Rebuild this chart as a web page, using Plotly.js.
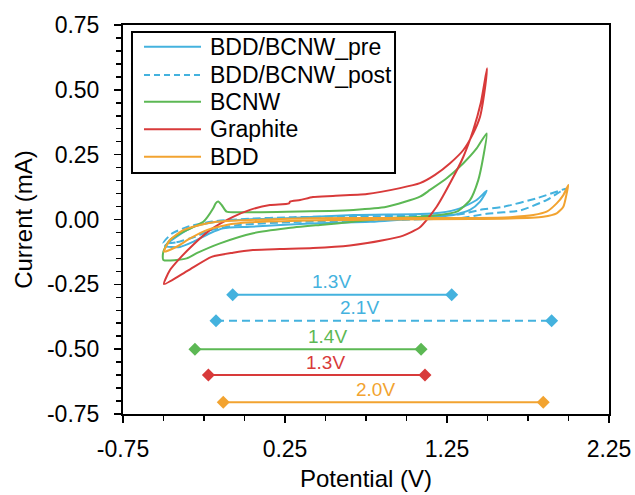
<!DOCTYPE html>
<html>
<head>
<meta charset="utf-8">
<script src="https://cdn.plot.ly/plotly-3.0.1.min.js"></script>
<style>html,body{margin:0;padding:0;background:#fff;}#chart{width:635px;height:495px;}</style>
</head>
<body>
<div id="chart"></div>
<script>
// ---- series (potential V, current mA) ----
const preX = [-0.491,-0.398,-0.316,-0.213,-0.131,0.034,0.404,0.775,1.083,1.186,1.289,1.392,1.454,1.495,1.433,1.330,1.207,1.083,0.672,0.260,0.034,-0.172,-0.316,-0.419,-0.491];
const preY = [-0.102,-0.106,-0.086,-0.053,-0.034,-0.028,-0.015,-0.009,0.005,0.011,0.017,0.037,0.069,0.111,0.075,0.043,0.026,0.021,0.017,0.005,0.001,-0.009,-0.028,-0.066,-0.102];

const postX = [-0.501,-0.42,-0.30,-0.20,-0.05,0.30,0.80,1.10,1.33,1.495,1.701,1.865,1.948,1.989,1.804,1.598,1.454,1.330,1.10,0.70,0.30,0.0,-0.20,-0.35,-0.45,-0.501];
const postY = [-0.091,-0.088,-0.065,-0.040,-0.022,-0.010,-0.003,0.001,0.005,0.022,0.035,0.075,0.107,0.120,0.082,0.049,0.037,0.020,0.015,0.012,0.009,0.002,-0.008,-0.028,-0.055,-0.091];

const bcnwX = [-0.501,-0.357,-0.295,-0.151,0.054,0.260,0.466,0.672,0.878,1.083,1.207,1.310,1.392,1.443,1.474,1.495,1.433,1.351,1.248,1.145,1.083,0.878,0.672,0.260,-0.048,-0.110,-0.141,-0.162,-0.178,-0.193,-0.254,-0.357,-0.460,-0.501,-0.501];
const bcnwY = [-0.156,-0.150,-0.130,-0.092,-0.053,-0.034,-0.021,-0.009,0.005,0.011,0.017,0.030,0.075,0.152,0.242,0.332,0.274,0.217,0.159,0.114,0.088,0.049,0.037,0.030,0.028,0.030,0.056,0.069,0.062,0.043,-0.009,-0.041,-0.079,-0.124,-0.156];

const graphX = [-0.497,-0.35,-0.203,-0.071,0.052,0.219,0.423,0.651,0.855,0.98,1.083,1.186,1.279,1.351,1.412,1.458,1.497,1.480,1.454,1.412,1.351,1.269,1.176,1.083,0.960,0.756,0.546,0.423,0.343,0.281,0.275,0.157,0.034,-0.071,-0.213,-0.318,-0.398,-0.460,-0.497];
const graphY = [-0.249,-0.197,-0.144,-0.128,-0.118,-0.114,-0.110,-0.100,-0.080,-0.062,-0.030,0.049,0.152,0.242,0.345,0.448,0.583,0.486,0.396,0.332,0.268,0.217,0.172,0.140,0.121,0.098,0.091,0.087,0.075,0.069,0.062,0.056,0.037,0.010,-0.041,-0.098,-0.149,-0.195,-0.249];

const bddX = [-0.497,-0.419,-0.336,-0.233,-0.110,0.034,0.404,0.900,1.400,1.639,1.844,1.927,1.968,1.989,1.999,1.968,1.927,1.865,1.783,1.639,1.433,0.900,0.404,0.034,-0.172,-0.275,-0.378,-0.460,-0.497];
const bddY = [-0.124,-0.105,-0.073,-0.041,-0.021,-0.011,-0.004,0.000,0.002,0.004,0.011,0.024,0.049,0.101,0.133,0.094,0.062,0.030,0.017,0.009,0.006,0.006,0.005,-0.002,-0.009,-0.021,-0.041,-0.079,-0.124];

// ---- legend / names ----
const seriesNames = ['BDD/BCNW_pre','BDD/BCNW_post','BCNW','Graphite','BDD'];

// ---- potential-window bars ----
const windowLabels = ['1.3V','2.1V','1.4V','1.3V','2.0V'];
const windowStart = [-0.073,-0.176,-0.306,-0.223,-0.131];
const windowEnd   = [1.279,1.896,1.090,1.114,1.844];
const windowLevel = [-0.29,-0.39,-0.50,-0.60,-0.705];
const labelX      = [0.538,0.707,0.515,0.501,0.81];

// ---- ticks ----
const xTickVals = [-0.75,0.25,1.25,2.25];
const xTickText = ['-0.75','0.25','1.25','2.25'];
const yTickVals = [-0.75,-0.5,-0.25,0,0.25,0.5,0.75];
const yTickText = ['-0.75','-0.50','-0.25','0.00','0.25','0.50','0.75'];

// ---- styles ----
const colors = ['rgb(68,178,222)','rgb(68,178,222)','rgb(92,184,84)','rgb(216,58,58)','rgb(242,163,48)'];
const dashes = ['solid','8px,4px','solid','solid','solid'];
const FONT = 'Liberation Sans, Arial, sans-serif';

const curves = [[preX,preY],[postX,postY],[bcnwX,bcnwY],[graphX,graphY],[bddX,bddY]];
const traces = curves.map((c,i)=>({
  x:c[0], y:c[1], type:'scatter', mode:'lines', name:seriesNames[i],
  line:{color:colors[i], width:2, dash:dashes[i], shape:'spline', smoothing:0.6},
  showlegend:false, hoverinfo:'skip'
}));

// bars use colour order: pre, post, bcnw, graphite, bdd
windowLabels.forEach((lab,i)=>{
  traces.push({
    x:[windowStart[i],windowEnd[i]], y:[windowLevel[i],windowLevel[i]],
    type:'scatter', mode:'lines+markers', showlegend:false, hoverinfo:'skip',
    line:{color:colors[i], width:2, dash: i===1 ? '8px,5px' : 'solid'},
    marker:{symbol:'diamond', size:10, color:colors[i]}
  });
});

const annotations = windowLabels.map((lab,i)=>({
  x:labelX[i], y:windowLevel[i], xref:'x', yref:'y', text:lab, showarrow:false,
  yanchor:'middle', yshift:13, font:{family:FONT, size:19, color:colors[i]}
}));

// custom legend (paper coordinates)
const legRowsY = [0.9442,0.8715,0.8028,0.7319,0.6614];
const shapes = [{
  type:'rect', xref:'paper', yref:'paper', x0:0.0185, x1:0.5597, y0:0.6195, y1:0.982,
  line:{color:'#000', width:2}, fillcolor:'#fff', layer:'above'
}];
seriesNames.forEach((nm,i)=>{
  shapes.push({type:'line', xref:'paper', yref:'paper', x0:0.0432, x1:0.1605, y0:legRowsY[i], y1:legRowsY[i],
    line:{color:colors[i], width:2, dash: i===1 ? '6px,4px' : 'solid'}, layer:'above'});
  annotations.push({x:0.1755, y:legRowsY[i], xref:'paper', yref:'paper', text:nm, showarrow:false,
    xanchor:'left', yanchor:'middle', font:{family:FONT, size:23, color:'#000'}});
});

const layout = {
  width:635, height:495,
  margin:{l:123, r:26, t:25, b:81},
  paper_bgcolor:'#fff', plot_bgcolor:'#fff',
  font:{family:FONT, size:23, color:'#000'},
  showlegend:false,
  xaxis:{
    range:[-0.75,2.25], tickmode:'array', tickvals:xTickVals, ticktext:xTickText,
    ticks:'outside', ticklen:7, tickwidth:1.5, tickcolor:'#000',
    minor:{tickmode:'linear', tick0:-0.75, dtick:0.25, ticks:'outside', ticklen:5, tickwidth:1.5, tickcolor:'#000'},
    showline:true, linecolor:'#000', linewidth:2, mirror:true, showgrid:false, zeroline:false,
    ticklabelstandoff:6,
    title:{text:'Potential (V)', font:{family:FONT, size:24}, standoff:10}
  },
  yaxis:{
    range:[-0.75,0.75], tickmode:'array', tickvals:yTickVals, ticktext:yTickText,
    ticks:'outside', ticklen:7, tickwidth:1.5, tickcolor:'#000',
    minor:{tickmode:'linear', tick0:-0.75, dtick:0.05, ticks:'outside', ticklen:5, tickwidth:1.5, tickcolor:'#000'},
    showline:true, linecolor:'#000', linewidth:2, mirror:true, showgrid:false, zeroline:false,
    ticklabelstandoff:10,
    title:{text:'Current (mA)', font:{family:FONT, size:24}, standoff:8}
  },
  annotations:annotations,
  shapes:shapes
};

Plotly.newPlot('chart', traces, layout, {displayModeBar:false, staticPlot:true});
</script>
</body>
</html>
